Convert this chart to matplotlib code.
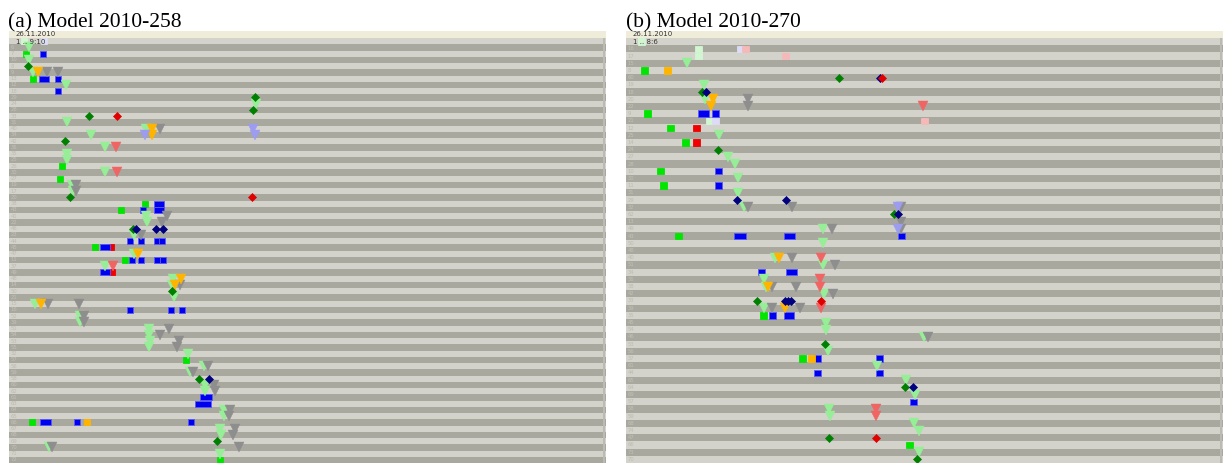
import matplotlib
matplotlib.use("Agg")
import matplotlib.pyplot as plt

W, H = 1223, 463

# ---- panel (a): Model 2010-258 -------------------------------------------
# positions are (x on the time strip in screen px, row index)
a_labels = ["5", "6", "7", "10", "8", "9", "13", "12", "18", "29", "24", "28",
            "33", "31", "40", "34", "42", "36", "35", "25", "26", "30", "27",
            "19", "17", "20", "38", "43", "41", "22", "46", "23", "44", "45",
            "47", "11", "37", "49", "48", "14", "50", "21", "15", "16", "52",
            "39", "51", "54", "53", "55", "32", "57", "56", "59", "58", "60",
            "62", "61", "63", "64", "65", "66", "67", "68", "69", "70", "71", "72"]
a_tri_lgreen = [(29, 1), (29, 3), (33, 5), (66, 7), (256, 10), (67, 13), (146, 14),
                (91, 15), (105, 17), (67, 18), (67, 19), (105, 21), (72, 23),
                (73, 24), (146, 28), (147, 29), (134, 31), (134, 34), (105, 36),
                (173, 38), (172, 39), (174, 41), (35, 42), (80, 44), (80, 45),
                (149, 46), (149, 47), (150, 48), (149, 49), (188, 50), (204, 52),
                (190, 53), (205, 55), (205, 56), (224, 59), (224, 60),
                (220, 62), (221, 63), (49, 65), (220, 66)]
a_tri_gray = [(47, 5), (58, 5), (160, 14), (76, 23), (76, 24), (167, 28), (162, 29),
              (141, 31), (180, 39), (48, 42), (79, 42), (84, 44), (84, 45),
              (169, 46), (160, 47), (179, 48), (177, 49), (208, 52), (193, 53),
              (214, 55), (215, 56), (230, 59), (229, 60), (235, 62), (233, 63),
              (52, 65), (239, 65)]
a_tri_orange = [(38, 5), (152, 14), (152, 15), (138, 34), (181, 38), (175, 39), (41, 42)]
a_tri_salmon = [(116, 17), (117, 21), (113, 36)]
a_tri_lav = [(253, 14), (145, 15), (255, 15)]
a_dia_green = [(28, 4), (255, 9), (253, 11), (89, 12), (65, 16), (70, 25),
               (133, 30), (172, 40), (199, 54), (217, 64)]
a_dia_navy = [(136, 30), (156, 30), (163, 30), (209, 54)]
a_dia_red = [(117, 12), (252, 25)]
a_sq_green = [(26, 2), (33, 6), (62, 20), (60, 22), (145, 26), (121, 27),
              (95, 33), (125, 35), (186, 51), (32, 61), (220, 67)]
a_sq_blue = [(43, 2), (58, 6), (58, 8), (143, 27), (130, 32), (141, 32), (157, 32),
             (162, 32), (132, 35), (141, 35), (157, 35), (163, 35), (130, 43),
             (171, 43), (182, 43), (77, 61), (191, 61)]
a_wide_blue = [(44, 6, 10), (159, 26, 10), (159, 27, 10), (105, 33, 10),
               (105, 37, 10), (206, 57, 12), (203, 58, 16), (45, 61, 11)]
a_sq_red = [(111, 33), (112, 37)]
a_sq_orange = [(87, 61)]
a_sq_pale = [(24, 0)]
a_sq_lavw = [(44, 0)]
a_sq_pink = []

# ---- panel (b): Model 2010-270 -------------------------------------------
b_labels = ["7", "16", "17", "15", "8", "60", "19", "18", "20", "22", "9", "21",
            "12", "25", "14", "24", "27", "28", "10", "30", "11", "31", "29",
            "32", "62", "13", "49", "43", "50", "48", "40", "51", "34", "36",
            "38", "42", "33", "39", "35", "45", "54", "46", "53", "56", "37",
            "61", "44", "65", "64", "69", "57", "58", "59", "68", "74", "47",
            "66", "73", "70"]
b_tri_lgreen = [(687, 3), (704, 6), (705, 8), (719, 13), (728, 16), (735, 17),
                (738, 19), (738, 21), (744, 23), (823, 26), (823, 28), (775, 30),
                (823, 31), (764, 33), (766, 34), (824, 35), (764, 37), (826, 39),
                (826, 40), (924, 41), (828, 43), (877, 45), (906, 47), (915, 49),
                (829, 51), (830, 52), (914, 53), (919, 54), (919, 57)]
b_tri_gray = [(748, 8), (748, 9), (748, 23), (792, 23), (901, 23), (901, 25),
              (832, 26), (901, 26), (792, 30), (835, 31), (772, 34), (796, 34),
              (833, 35), (772, 37), (800, 37), (928, 41)]
b_tri_orange = [(713, 8), (711, 9), (779, 30), (768, 34), (785, 37)]
b_tri_salmon = [(923, 9), (821, 30), (820, 33), (820, 34), (821, 37),
                (876, 51), (876, 52)]
b_tri_lav = [(898, 23), (898, 26)]
b_dia_green = [(702, 7), (839, 5), (718, 15), (894, 24), (757, 36), (825, 42),
               (905, 48), (829, 55), (917, 58)]
b_dia_navy = [(880, 5), (706, 7), (737, 22), (786, 22), (898, 24), (785, 36),
              (788, 36), (791, 36), (913, 48)]
b_dia_red = [(882, 5), (821, 36), (876, 55)]
b_sq_green = [(644, 4), (647, 10), (670, 12), (685, 14), (660, 18), (663, 20),
              (678, 27), (763, 38), (802, 44), (909, 56)]
b_sq_blue = [(715, 10), (718, 18), (718, 20), (901, 27), (761, 32), (772, 38),
             (817, 44), (879, 44), (817, 46), (879, 46), (913, 50)]
b_wide_blue = [(703, 10, 11), (740, 27, 12), (789, 27, 11), (791, 32, 11),
               (789, 38, 10)]
b_sq_red = [(696, 12), (696, 14)]
b_sq_orange = [(667, 4), (811, 44)]
b_sq_pale = [(641, 0), (698, 1), (698, 2), (709, 11)]
b_sq_lavw = [(740, 1), (715, 11)]
b_sq_pink = [(745, 1), (785, 2), (924, 11)]

LIGHT = "#d4d3cb"
DARK = "#a9a89f"
HEAD = "#efedd9"


def draw_panel(ax, left, right, row_h, labels, tris, dias, squares, wides, sq_px, stamp):
    n = len(labels)
    hdr = 7 / row_h
    ax.set_xlim(left, right)
    ax.set_ylim(n, -hdr)
    ax.axis("off")
    # striped rows + header band
    ax.barh(-hdr / 2, right - left, left=left, height=hdr, color=HEAD, lw=0)
    for r in range(n):
        ax.barh(r + 0.5, right - left, left=left, height=1,
                color=LIGHT if r % 2 == 0 else DARK, lw=0)
        if r > 0:
            ax.text(left + 1.5, r + 0.5, labels[r], fontsize=3.8, va="center", ha="left",
                    color="#c2c1b8" if r % 2 else "#bdbcb3", family="DejaVu Sans")
    ax.barh(n / 2, 2, left=right - 3, height=n, color="#bcbbb3", lw=0)

    for pts, col in tris:
        if pts:
            xs, rs = zip(*pts)
            ax.plot(xs, [r + 0.5 for r in rs], "v", ms=6.6, color=col, mec=col, mew=0.3, ls="none")
    for pts, col in dias:
        if pts:
            xs, rs = zip(*pts)
            ax.plot(xs, [r + 0.5 for r in rs], "D", ms=3.6, color=col, mec=col, mew=0.5, ls="none")
    for pts, col in squares:
        for x, r in pts:
            ax.barh(r + 0.5, sq_px, left=x - sq_px / 2, height=0.92 * sq_px / row_h,
                    color=col, lw=0.6, edgecolor=col if col != "#0000f0" else "#5a5af6")
    for x, r, w in wides:
        ax.barh(r + 0.5, w, left=x - w / 2, height=0.92 * sq_px / row_h,
                color="#0000f0", lw=0.6, edgecolor="#5a5af6")

    ax.text(left + 7, -hdr - 0.05, "26.11.2010", fontsize=5.0, va="top", ha="left", color="#333333")
    ax.text(left + 7, 0.12, stamp, fontsize=5.0, va="top", ha="left", color="#333333")


fig = plt.figure(figsize=(W / 100, H / 100), dpi=100)
fig.patch.set_facecolor("white")

top = 31
ax_a = fig.add_axes([9 / W, 0, 597 / W, (H - top) / H])
ax_b = fig.add_axes([626 / W, 0, 597 / W, (H - top) / H])

draw_panel(ax_a, 9, 606, 6.25, a_labels,
           [(a_tri_lgreen, "#96ee96"), (a_tri_gray, "#8e8e8e"), (a_tri_orange, "#ffb400"),
            (a_tri_salmon, "#f06464"), (a_tri_lav, "#9c9cf0")],
           [(a_dia_green, "#008000"), (a_dia_navy, "#000080"), (a_dia_red, "#e00000")],
           [(a_sq_green, "#00e600"), (a_sq_blue, "#0000f0"), (a_sq_red, "#f00000"),
            (a_sq_orange, "#ffb400"), (a_sq_pale, "#d2f6d2"), (a_sq_lavw, "#dcdcf6"),
            (a_sq_pink, "#f6b9b9")],
           a_wide_blue, 6.5, "1 .. 9:10")

draw_panel(ax_b, 626, 1223, 7.2, b_labels,
           [(b_tri_lgreen, "#96ee96"), (b_tri_gray, "#8e8e8e"), (b_tri_orange, "#ffb400"),
            (b_tri_salmon, "#f06464"), (b_tri_lav, "#9c9cf0")],
           [(b_dia_green, "#008000"), (b_dia_navy, "#000080"), (b_dia_red, "#e00000")],
           [(b_sq_green, "#00e600"), (b_sq_blue, "#0000f0"), (b_sq_red, "#f00000"),
            (b_sq_orange, "#ffb400"), (b_sq_pale, "#d2f6d2"), (b_sq_lavw, "#dcdcf6"),
            (b_sq_pink, "#f6b9b9")],
           b_wide_blue, 7, "1 .. 8:6")

fig.text(8 / W, 1 - 27 / H, "(a) Model 2010-258", fontsize=15.5, family="Liberation Serif",
         ha="left", va="baseline")
fig.text(626 / W, 1 - 27 / H, "(b) Model 2010-270", fontsize=15.5, family="Liberation Serif",
         ha="left", va="baseline")

fig.savefig("out.png", dpi=100)
